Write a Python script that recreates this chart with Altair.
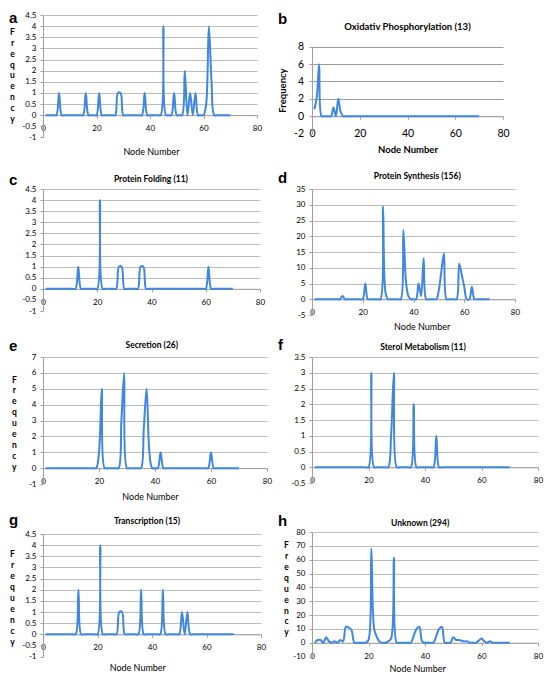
import altair as alt
import pandas as pd

# ---------------- data ----------------
nodes = list(range(1, 71))

freq_a = [0, 0, 0, 0, 0, 1, 0, 0, 0, 0,
          0, 0, 0, 0, 0, 1, 0, 0, 0, 0,
          1, 0, 0, 0, 0, 0, 0, 1, 1, 0,
          0, 0, 0, 0, 0, 0, 0, 1, 0, 0,
          0, 0, 0, 0, 4, 0, 0, 0, 1, 0,
          0, 0, 2, 0, 1, 0, 1, 0, 0, 0,
          0.5, 4, 1.5, 0, 0, 0, 0, 0, 0, 0]

freq_b = [0.8, 2.2, 6, 0, 0, 0, 0, 0, 1, 0,
          2, 0.5, 0, 0, 0, 0, 0, 0, 0, 0,
          0, 0, 0, 0, 0, 0, 0, 0, 0, 0,
          0, 0, 0, 0, 0, 0, 0, 0, 0, 0,
          0, 0, 0, 0, 0, 0, 0, 0, 0, 0,
          0, 0, 0, 0, 0, 0, 0, 0, 0, 0,
          0, 0, 0, 0, 0, 0, 0, 0, 0, 0]

freq_c = [0, 0, 0, 0, 0, 0, 0, 0, 0, 0,
          0, 0, 1, 0, 0, 0, 0, 0, 0, 0,
          4, 0, 0, 0, 0, 0, 0, 1, 1, 0,
          0, 0, 0, 0, 0, 1, 1, 0, 0, 0,
          0, 0, 0, 0, 0, 0, 0, 0, 0, 0,
          0, 0, 0, 0, 0, 0, 0, 0, 0, 0,
          1, 0, 0, 0, 0, 0, 0, 0, 0, 0]

freq_d = [0, 0, 0, 0, 0, 0, 0, 0, 0, 0,
          0, 1, 0, 0, 0, 0, 0, 0, 0, 0,
          5, 0, 0, 0, 0, 0, 0, 29.5, 2, 0,
          0, 0, 0, 0, 0, 22, 6, 1, 0, 0,
          0, 5, 1, 13, 0, 0, 0, 0, 0, 3,
          9, 14.5, 0, 0, 0, 0, 0, 11.3, 7.8, 4,
          0, 0, 4, 0, 0, 0, 0, 0, 0, 0]

freq_e = [0, 0, 0, 0, 0, 0, 0, 0, 0, 0,
          0, 0, 0, 0, 0, 0, 0, 0, 0, 1,
          5, 0, 0, 0, 0, 0, 0, 3, 6, 0,
          0, 0, 0, 0, 0, 2.5, 5, 1, 0, 0,
          0, 1, 0, 0, 0, 0, 0, 0, 0, 0,
          0, 0, 0, 0, 0, 0, 0, 0, 0, 1,
          0, 0, 0, 0, 0, 0, 0, 0, 0, 0]

freq_f = [0, 0, 0, 0, 0, 0, 0, 0, 0, 0,
          0, 0, 0, 0, 0, 0, 0, 0, 0, 0,
          3, 0, 0, 0, 0, 0, 0, 1, 3, 0,
          0, 0, 0, 0, 0, 2, 0, 0, 0, 0,
          0, 0, 0, 1, 0, 0, 0, 0, 0, 0,
          0, 0, 0, 0, 0, 0, 0, 0, 0, 0,
          0, 0, 0, 0, 0, 0, 0, 0, 0, 0]

freq_g = [0, 0, 0, 0, 0, 0, 0, 0, 0, 0,
          0, 0, 2, 0, 0, 0, 0, 0, 0, 0,
          4, 0, 0, 0, 0, 0, 0, 1, 1, 0,
          0, 0, 0, 0, 0, 2, 0, 0, 0, 0,
          0, 0, 0, 2, 0, 0, 0, 0, 0, 0,
          1, 0, 1, 0, 0, 0, 0, 0, 0, 0,
          0, 0, 0, 0, 0, 0, 0, 0, 0, 0]

freq_h = [0, 2, 2, 0, 4, 1, 0, 1, 0, 2,
          1, 11.5, 11, 9, 0, 0, 0, 0, 0, 2,
          68, 10, 4, 0.5, 0, 0, 1, 3, 61.5, 0,
          0, 0, 0, 0, 0, 5, 10, 11.5, 1, 0,
          0, 0, 0, 5, 10, 11.5, 0, 0, 0, 4,
          2, 2, 1.5, 1, 1, 0, 0, 0, 1.5, 3,
          1, 0, 1, 0, 0, 0, 0, 0, 0, 0]

x_ticks = [0, 20, 40, 60, 80]
ticks_small = [-1, -0.5, 0, 0.5, 1, 1.5, 2, 2.5, 3, 3.5, 4, 4.5]
ticks_b = [-2, 0, 2, 4, 6, 8]
ticks_d = [-5, 0, 5, 10, 15, 20, 25, 30, 35]
ticks_e = [-1, 0, 1, 2, 3, 4, 5, 6, 7]
ticks_f = [-0.5, 0, 0.5, 1, 1.5, 2, 2.5, 3, 3.5]
ticks_h = [-10, 0, 10, 20, 30, 40, 50, 60, 70, 80]

panel_titles = {
    "a": "",
    "b": "Oxidativ Phosphorylation (13)",
    "c": "Protein Folding (11)",
    "d": "Protein Synthesis (156)",
    "e": "Secretion (26)",
    "f": "Sterol Metabolism (11)",
    "g": "Transcription (15)",
    "h": "Unknown (294)",
}
x_title = "Node Number"
y_title = "Frequency"

# ---------------- style ----------------
FONT = "Lato"
BLUE = "#3f87e0"
GRID = "#bcbcbc"
AXIS = "#a0a0a0"
MINUS = "replace(datum.label, '\u2212', '-')"


def panel(letter, freq, yticks, width, cell_h, y_px, title_xy, letter_y,
          xt=None, yt=None, big=False):
    ydom = [yticks[0], yticks[-1]]
    y0 = y_px[0] + (0 - ydom[0]) / (ydom[1] - ydom[0]) * (y_px[1] - y_px[0])
    off = -(cell_h - y0)
    lab = 10.5 if big else 8

    xa = dict(values=x_ticks, offset=off, grid=False, domainColor=AXIS,
              tickColor=AXIS, tickSize=3, labelFont=FONT, labelFontSize=lab,
              labelColor="#000", labelPadding=9.5 if big else 6.5,
              labelFlush=False, labelOverlap=False)
    if xt:
        xa.update(title=x_title, titleX=xt[0], titleY=xt[1], titleAlign="center",
                  titleBaseline="middle", titleFont=FONT,
                  titleFontSize=9.5 if big else 9,
                  titleFontWeight="bold" if big else "normal", titleColor="#000")
    else:
        xa.update(title="")

    ya = dict(values=yticks, format=".1~f", labelExpr=MINUS, grid=True,
              gridColor=GRID if not big else "#9a9a9a", gridWidth=1,
              gridOpacity={"condition": {"test": "datum.value < 0", "value": 0}, "value": 1},
              domainColor=AXIS, tickColor=AXIS, tickSize=3,
              labelFont=FONT, labelFontSize=lab, labelColor="#000",
              labelPadding=5.5 if big else 4, labelOverlap=False, labelFlush=False)
    if yt is None:
        ya.update(title="")
    elif yt[0] == "stack":
        ya.update(title=list(y_title), titleAngle=0, titleAlign="center",
                  titleBaseline="top", titleX=yt[1], titleY=yt[2],
                  titleLineHeight=yt[3], titleFont=FONT, titleFontSize=8.5,
                  titleFontWeight="bold", titleColor="#000")
    else:
        ya.update(title=y_title, titleAngle=270, titleAlign="center",
                  titleBaseline="middle", titleX=yt[1], titleY=yt[2],
                  titleFont=FONT, titleFontSize=9.5, titleFontWeight="bold",
                  titleColor="#000")

    df = pd.DataFrame({"node": nodes, "freq": freq})
    line = alt.Chart(df).mark_line(
        interpolate="catmull-rom", color=BLUE, strokeWidth=2
    ).encode(
        x=alt.X("node:Q", scale=alt.Scale(domain=[0, 80], nice=False, zero=False),
                axis=alt.Axis(**xa)),
        y=alt.Y("freq:Q", scale=alt.Scale(domain=ydom, range=list(y_px), nice=False, zero=False),
                axis=alt.Axis(**ya)),
    )
    lay = [line]
    lt = alt.Chart(pd.DataFrame({"t": [letter]})).mark_text(
        align="left", baseline="middle", font="Liberation Sans", fontSize=15,
        fontWeight="bold", color="#000"
    ).encode(text="t:N", x=alt.value(-34), y=alt.value(letter_y))
    lay.append(lt)
    if panel_titles[letter]:
        tt = alt.Chart(pd.DataFrame({"t": [panel_titles[letter]]})).mark_text(
            align="center", baseline="middle", font=FONT,
            fontSize=9.5 if big else 8.5, fontWeight="bold", color="#000"
        ).encode(text="t:N", x=alt.value(title_xy[0]), y=alt.value(title_xy[1]))
        lay.append(tt)
    return alt.layer(*lay).properties(width=width, height=cell_h)


pa = panel("a", freq_a, ticks_small, 214, 174, (122.4, 0), None, 3.2,
           xt=(108, 36), yt=("stack", -31, 12.6, 10.85))
pb = panel("b", freq_b, ticks_b, 191, 174, (118.6, 31.7), (95.5, 12.4), 3.7,
           xt=(95.5, 33.4), yt=("rot", -30, 75), big=True)
pc = panel("c", freq_c, ticks_small, 217, 168, (122, 0), (107.9, -10.1), -9.1)
pd_ = panel("d", freq_d, ticks_d, 203, 168, (126, 0), (105.2, -13), -11.1,
            xt=(109.7, 27.3))
pe = panel("e", freq_e, ticks_e, 224, 175, (127, 0), (108.8, -12.1), -11.1,
           xt=(106.9, 28.3), yt=("stack", -29.2, 18, 10.98))
pf = panel("f", freq_f, ticks_f, 226, 175, (126, 0), (111, -10.2), -12.1)
pg = panel("g", freq_g, ticks_small, 218, 125, (124.6, 2), (104, -11.5), -12,
           xt=(94.3, 33.6), yt=("stack", -31, 17.6, 10.97))
ph = panel("h", freq_h, ticks_h, 226, 125, (124.6, 0), (108.1, -9.5), -11,
           xt=(105.2, 26), yt=("stack", -26, 8.9, 10.86))

chart = alt.concat(
    pa, pb, pc, pd_, pe, pf, pg, ph,
    columns=2, spacing={"row": 0, "column": 45}, bounds="flush", align="each"
).properties(
    padding={"left": 1, "top": 3, "right": 1, "bottom": 1}, background="white"
).configure_view(strokeWidth=0)

chart.save("out.html", embed_options={"renderer": "svg", "actions": False})
